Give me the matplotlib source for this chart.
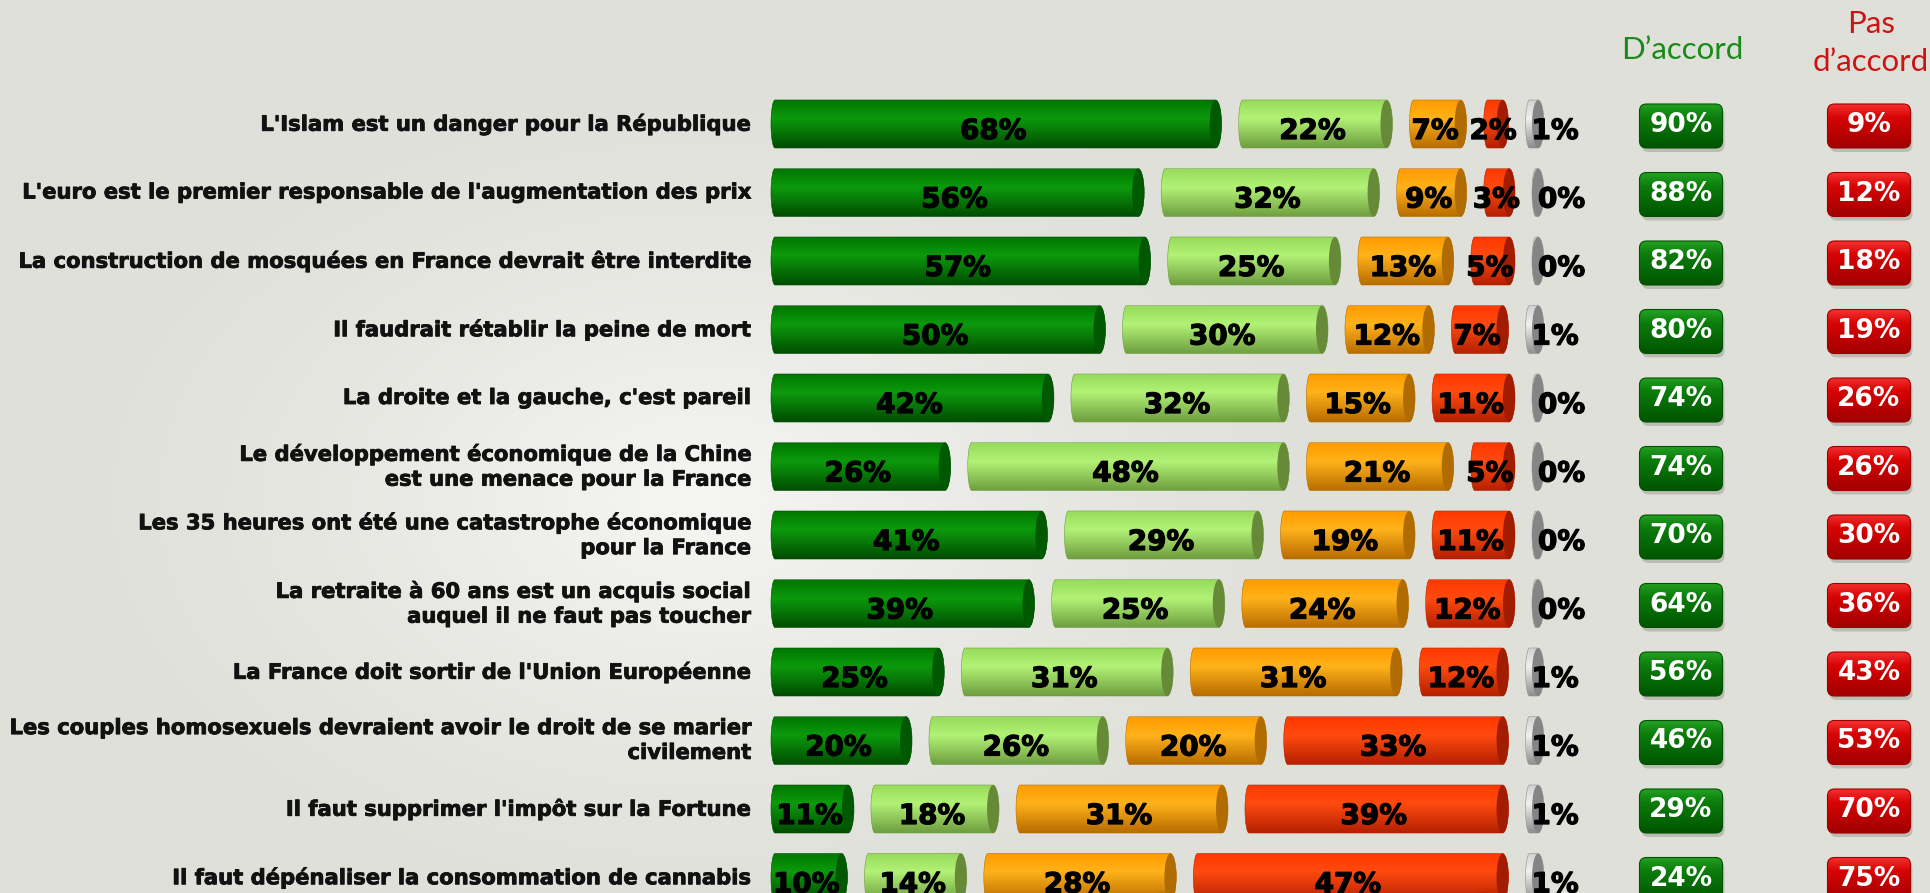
import numpy as np
import matplotlib
matplotlib.use("Agg")
import matplotlib.pyplot as plt
import matplotlib.patheffects as pe
from matplotlib.patches import Ellipse, FancyBboxPatch, PathPatch
from matplotlib.path import Path
from matplotlib.colors import to_rgb

# Données (en %)
questions = [
    "L'Islam est un danger pour la République",
    "L'euro est le premier responsable de l'augmentation des prix",
    "La construction de mosquées en France devrait être interdite",
    "Il faudrait rétablir la peine de mort",
    "La droite et la gauche, c'est pareil",
    "Le développement économique de la Chine\nest une menace pour la France",
    "Les 35 heures ont été une catastrophe économique\npour la France",
    "La retraite à 60 ans est un acquis social\nauquel il ne faut pas toucher",
    "La France doit sortir de l'Union Européenne",
    "Les couples homosexuels devraient avoir le droit de se marier\ncivilement",
    "Il faut supprimer l'impôt sur la Fortune",
    "Il faut dépénaliser la consommation de cannabis",
]
tout_a_fait = [68, 56, 57, 50, 42, 26, 41, 39, 25, 20, 11, 10]
plutot_oui = [22, 32, 25, 30, 32, 48, 29, 25, 31, 26, 18, 14]
plutot_non = [7, 9, 13, 12, 15, 21, 19, 24, 31, 20, 31, 28]
pas_du_tout = [2, 3, 5, 7, 11, 5, 11, 12, 12, 33, 39, 47]
nsp = [1, 0, 0, 1, 0, 0, 0, 0, 1, 1, 1, 1]

series = [tout_a_fait, plutot_oui, plutot_non, pas_du_tout, nsp]
# (haut, reflet, bas, couvercle)
couleurs = [
    ("#007800", "#0c9a0c", "#004c00", "#005800"),
    ("#98dc5c", "#b2f276", "#6e9e40", "#678a38"),
    ("#ff9c00", "#ffb21a", "#b86c00", "#b06c00"),
    ("#ff3800", "#ff4a10", "#b42000", "#a21c00"),
    ("#d2d2d2", "#f0f0f0", "#8e8e8e", "#858585"),
]

W, H = 1931, 893
PX = 6.45      # pixels par point de %
RS = 68.5      # pixels entre deux lignes
X0, Y0 = 771, 124
CAP = 12 / PX
LR = 4 / PX
GAP = 17 / PX
BH = 48 / RS
K = 0.5523

fig = plt.figure(figsize=(W / 100, H / 100), dpi=100)
ax = fig.add_axes([0, 0, 1, 1])
ax.set_axis_off()
xmin, xmax = -X0 / PX, (W - X0) / PX
ymin, ymax = -Y0 / RS, (H - Y0) / RS

# fond gris avec zone claire
gx, gy = np.meshgrid(np.linspace(0, W, 200), np.linspace(0, H, 100))
d = np.sqrt(((gx - 700) / 650) ** 2 + ((gy - 500) / 430) ** 2)
t = np.clip(1 - d, 0, 1) ** 1.3
base = np.array(to_rgb("#dfe0d9"))
light = np.array(to_rgb("#f6f6f4"))
bg = base[None, None, :] * (1 - t[..., None]) + light[None, None, :] * t[..., None]
ax.imshow(bg, extent=(xmin, xmax, ymax, ymin), origin="upper", aspect="auto",
          interpolation="bilinear", zorder=0)


def degrade(top, mid, bot, n=64, pos=0.38):
    top, mid, bot = map(np.array, map(to_rgb, (top, mid, bot)))
    s = np.linspace(0, 1, n)
    out = np.zeros((n, 1, 3))
    for i, v in enumerate(s):
        if v < pos:
            f = v / pos
            out[i, 0] = top * (1 - f) + mid * f
        else:
            f = (v - pos) / (1 - pos)
            out[i, 0] = mid * (1 - f) + bot * f
    return out


def cylindre(x0, x1, yc, cols):
    top, bot = yc - BH / 2, yc + BH / 2
    hh = BH / 2
    rr = CAP / 2
    verts = [
        (x0 + LR, top),
        (x0 + LR - K * LR, top), (x0, yc - K * hh), (x0, yc),
        (x0, yc + K * hh), (x0 + LR - K * LR, bot), (x0 + LR, bot),
        (x1 - rr, bot),
        (x1 - rr + K * rr, bot), (x1, yc + K * hh), (x1, yc),
        (x1, yc - K * hh), (x1 - rr + K * rr, top), (x1 - rr, top),
        (x0 + LR, top),
    ]
    codes = [Path.MOVETO] + [Path.CURVE4] * 6 + [Path.LINETO] + [Path.CURVE4] * 6 + [Path.CLOSEPOLY]
    patch = PathPatch(Path(verts, codes), fc="none", ec=cols[2], lw=0.4, zorder=3)
    ax.add_patch(patch)
    im = ax.imshow(degrade(cols[0], cols[1], cols[2]), extent=(x0, x1, bot, top),
                   origin="upper", aspect="auto", interpolation="bilinear", zorder=2)
    im.set_clip_path(patch)
    ax.add_patch(Ellipse((x1 - rr, yc), 2 * rr, BH, fc=cols[3], ec="none", zorder=3))


gras = [pe.withStroke(linewidth=0.9, foreground="black")]
gras_lbl = [pe.withStroke(linewidth=0.6, foreground="#111111")]

for i, q in enumerate(questions):
    x = 0.0
    for j, s in enumerate(series):
        v = s[i]
        x1 = x + v + CAP
        cylindre(x, x1, i, couleurs[j])
        if j < 4:
            ax.text((x + x1 - CAP / 2) / 2, i + 7 / RS, f"{v}%", ha="center", va="center",
                    fontsize=20, fontweight="bold", color="black", zorder=5, path_effects=gras)
        else:
            ax.text(x + 6 / PX, i + 7 / RS, f"{v}%", ha="left", va="center",
                    fontsize=20, fontweight="bold", color="black", zorder=5, path_effects=gras)
        x = x1 + GAP
    ax.text(-20 / PX, i, q, ha="right", va="center", fontsize=15.2, fontweight="bold",
            color="#111111", linespacing=1.3, zorder=5, path_effects=gras_lbl)

# badges D'accord / Pas d'accord
d_accord = [a + b for a, b in zip(tout_a_fait, plutot_oui)]
pas_accord = [a + b for a, b in zip(plutot_non, pas_du_tout)]
bw, bh = 83 / PX, 44 / RS
asp = PX / RS
for i in range(len(questions)):
    for cx_px, val, cols in [(1681, d_accord[i], ("#23a023", "#0b7d0b", "#005400")),
                             (1869, pas_accord[i], ("#f43030", "#d80404", "#a00000"))]:
        cx = (cx_px - X0) / PX
        cy = i + 2 / RS
        sh = FancyBboxPatch((cx - bw / 2 + 2 / PX, cy - bh / 2 + 4 / RS), bw, bh,
                            boxstyle=f"round,pad=0,rounding_size={7 / PX}",
                            mutation_aspect=asp, fc="#7a7a70", ec="none", alpha=0.35, zorder=3)
        ax.add_patch(sh)
        box = FancyBboxPatch((cx - bw / 2, cy - bh / 2), bw, bh,
                             boxstyle=f"round,pad=0,rounding_size={7 / PX}",
                             mutation_aspect=asp, fc="none", ec=cols[2], lw=0.8, zorder=4)
        ax.add_patch(box)
        im = ax.imshow(degrade(cols[0], cols[1], cols[2], pos=0.3),
                       extent=(cx - bw / 2, cx + bw / 2, cy + bh / 2, cy - bh / 2),
                       origin="upper", aspect="auto", interpolation="bilinear", zorder=3.5)
        im.set_clip_path(box)
        ax.text(cx, cy - 1 / RS, f"{val}%", ha="center", va="center", fontsize=19,
                fontweight="bold", color="white", zorder=5)

ax.text((1682 - X0) / PX, (50 - Y0) / RS, "D\u2019accord", ha="center", va="center",
        fontsize=22.5, family="Lato", color="#1a8a1a")
ax.text((1871 - X0) / PX, (43 - Y0) / RS, "Pas\nd\u2019accord", ha="center", va="center",
        fontsize=22.5, family="Lato", color="#cc1414", linespacing=1.45)

ax.set_xlim(xmin, xmax)
ax.set_ylim(ymax, ymin)
fig.savefig("out.png", dpi=100)
